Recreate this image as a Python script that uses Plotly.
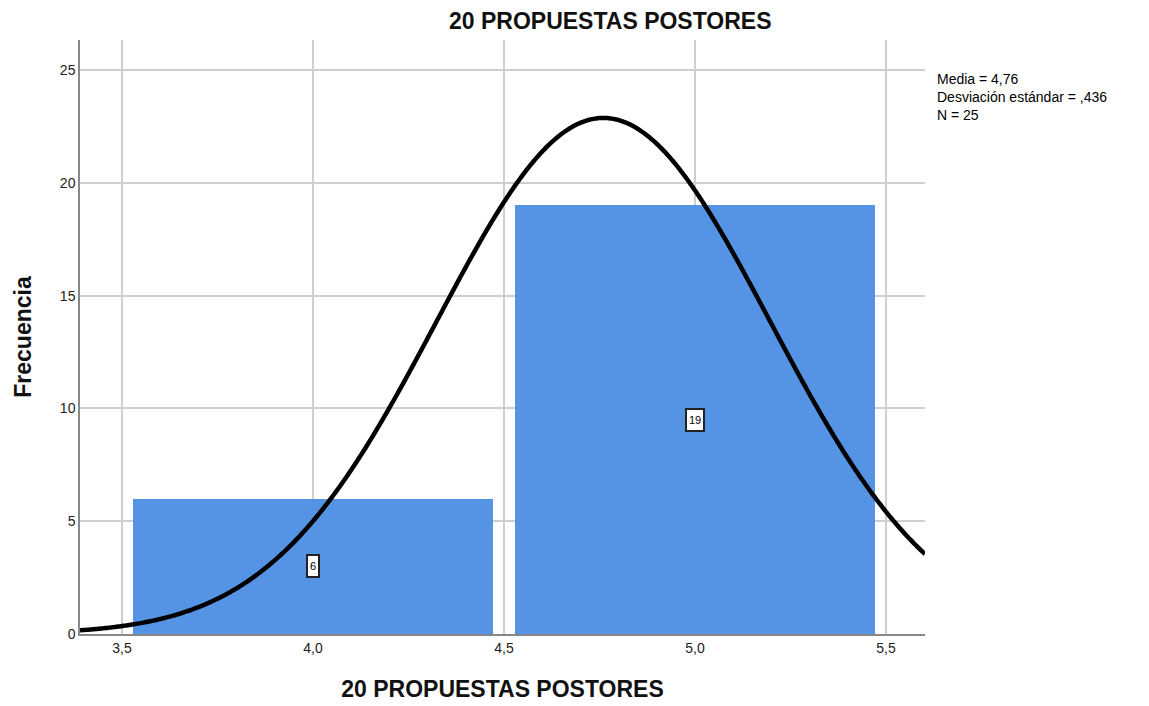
import numpy as np
import plotly.graph_objects as go

# Data
bin_centers = [4.0, 5.0]
frequencies = [6, 19]
bar_width = 0.94
mean_val = 4.76
sd_val = 0.436
n_val = 25
bin_size = 1.0
x_ticks = [3.5, 4.0, 4.5, 5.0, 5.5]
x_tick_labels = ["3,5", "4,0", "4,5", "5,0", "5,5"]
y_ticks = [0, 5, 10, 15, 20, 25]
title = "20 PROPUESTAS POSTORES"

x_range = [3.39, 5.602]
y_range = [0, 26.33]

xs = np.linspace(x_range[0], x_range[1], 600)
ys = n_val * bin_size / (sd_val * np.sqrt(2 * np.pi)) * np.exp(-0.5 * ((xs - mean_val) / sd_val) ** 2)

FONT = "Liberation Sans, Arial"

fig = go.Figure()
fig.add_trace(go.Bar(
    x=bin_centers, y=frequencies, width=bar_width,
    marker=dict(color="#5594E4", line=dict(width=0)),
    hoverinfo="x+y", showlegend=False,
))
fig.add_trace(go.Scatter(
    x=xs, y=ys, mode="lines", line=dict(color="black", width=4.5, simplify=False),
    showlegend=False, hoverinfo="skip",
))

for xc, f in zip(bin_centers, frequencies):
    fig.add_annotation(
        x=xc, y=f / 2, text=str(f), showarrow=False,
        font=dict(family=FONT, size=11, color="black"),
        bgcolor="white", bordercolor="#222", borderwidth=2, borderpad=2,
        height=16,
    )

fig.add_annotation(
    xref="paper", yref="paper", x=1.012, y=0.952, xanchor="left", yanchor="top",
    text="Media = 4,76<br>Desviación estándar = ,436<br>N = 25",
    showarrow=False, align="left",
    font=dict(family=FONT, size=14, color="black"),
)

fig.add_annotation(
    xref="paper", yref="paper", x=0.628, y=1.0, yshift=4, xanchor="center", yanchor="bottom",
    text="<b>" + title + "</b>", showarrow=False,
    font=dict(family=FONT, size=23, color="#111"),
)

fig.update_layout(
    width=1149, height=706,
    paper_bgcolor="white", plot_bgcolor="white",
    margin=dict(l=72, r=232, t=32, b=80),
    font=dict(family=FONT, size=14, color="#222"),
    bargap=0,
)
fig.update_xaxes(
    range=x_range, tickvals=x_ticks, ticktext=x_tick_labels,
    showgrid=True, gridcolor="#CFCFCF", gridwidth=1.5,
    showline=True, linecolor="#888", linewidth=1.5,
    zeroline=False, ticks="", ticklen=0,
    tickfont=dict(size=14),
    title=dict(text="<b>" + title + "</b>", font=dict(family=FONT, size=23, color="#111"), standoff=26),
)
fig.update_yaxes(
    range=y_range, tickvals=y_ticks,
    showgrid=True, gridcolor="#CFCFCF", gridwidth=1.5,
    showline=True, linecolor="#888", linewidth=1.5,
    zeroline=False, ticks="",
    tickfont=dict(size=14),
    title=dict(text="<b>Frecuencia</b>", font=dict(family=FONT, size=23, color="#111"), standoff=22),
)

fig.write_html("out.html")
